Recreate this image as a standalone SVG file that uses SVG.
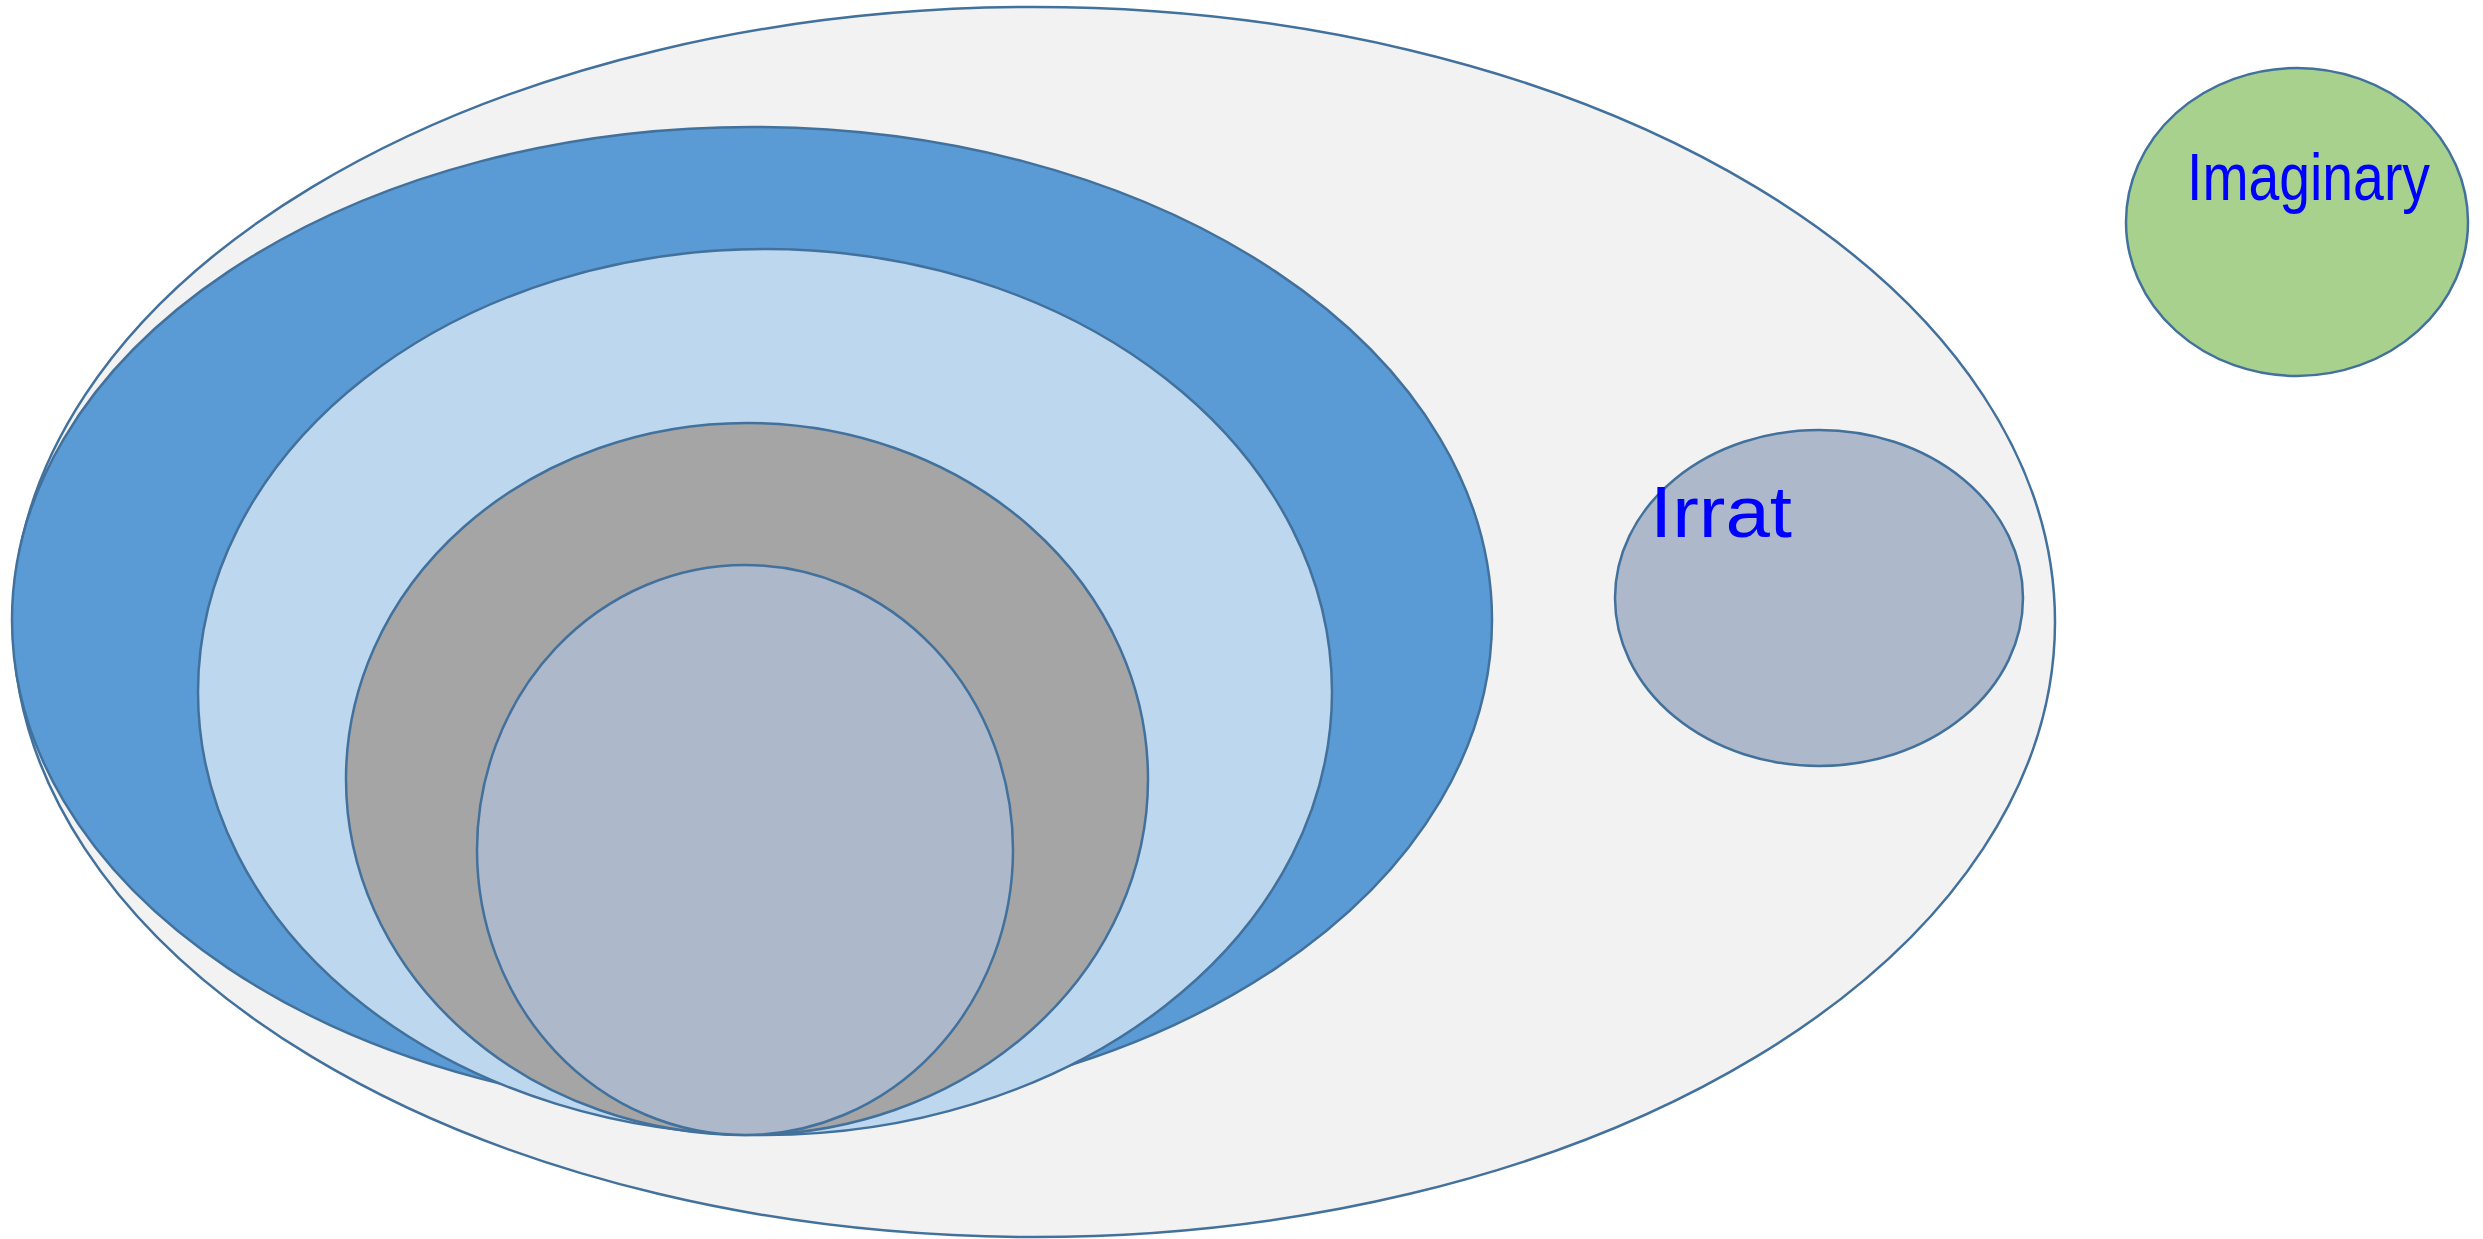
<svg xmlns="http://www.w3.org/2000/svg" width="2483" height="1239" viewBox="0 0 2483 1239">
<style>
.s{stroke:#41719c;stroke-width:2.5}
.hw{font-family:"Liberation Sans",Arial,sans-serif;fill:#0000ff;font-weight:normal}
</style>
<rect width="2483" height="1239" fill="#ffffff"/>
<g id="real-all">
<ellipse class="s" cx="1034" cy="622" rx="1021" ry="615" fill="#f2f2f2"/>
</g>
<g id="real">
<ellipse class="s" cx="752" cy="620" rx="740" ry="493" fill="#5b9bd5"/>
</g>
<g id="rational">
<ellipse class="s" cx="765" cy="692" rx="567" ry="443" fill="#bdd7ee"/>
</g>
<g id="integer">
<ellipse class="s" cx="747" cy="779" rx="401" ry="356" fill="#a5a5a5"/>
</g>
<g id="natural">
<ellipse class="s" cx="745" cy="850" rx="268" ry="285" fill="#adb9ca"/>
</g>
<g id="irrational">
<ellipse class="s" cx="1819" cy="598" rx="204" ry="168" fill="#adb9ca"/>
<text class="hw" x="1650" y="537" font-size="72" textLength="142" lengthAdjust="spacingAndGlyphs">Irrat</text>
</g>
<g id="imaginary">
<ellipse class="s" cx="2297" cy="222" rx="171" ry="154" fill="#a9d18e"/>
<text class="hw" x="2187" y="200" font-size="66" textLength="243" lengthAdjust="spacingAndGlyphs">Imaginary</text>
</g>
<g id="connectors"></g>
</svg>
